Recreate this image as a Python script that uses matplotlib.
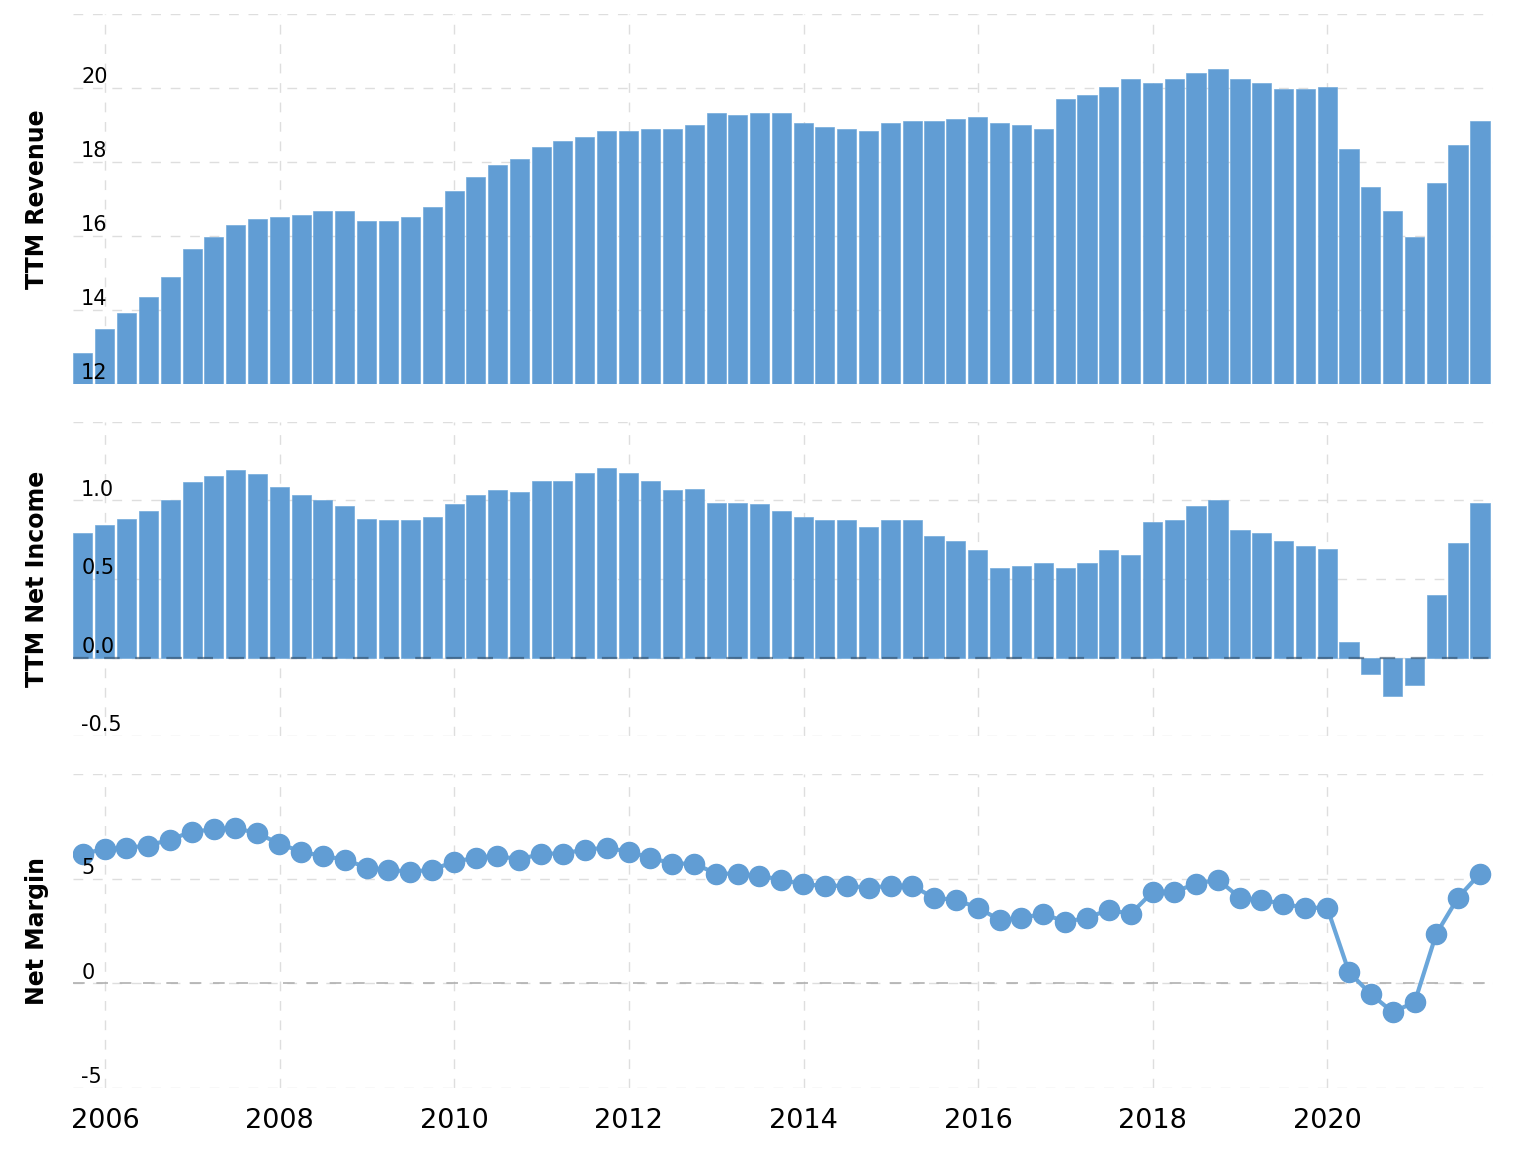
import matplotlib
matplotlib.use("Agg")
import matplotlib.pyplot as plt
import matplotlib.dates as mdates
import pandas as pd


# quarterly TTM figures, Q3 2005 .. Q3 2021 (billions / percent)
quarters = pd.date_range("2005-09-30", "2021-09-30", freq="QE")

revenue = [12.84, 13.49, 13.92, 14.35, 14.89, 15.65, 15.97, 16.30, 16.46, 16.51,
           16.57, 16.68, 16.68, 16.41, 16.41, 16.51, 16.78, 17.22, 17.59, 17.92,
           18.08, 18.41, 18.57, 18.68, 18.84, 18.84, 18.89, 18.89, 19.00, 19.32,
           19.27, 19.32, 19.32, 19.05, 18.95, 18.89, 18.84, 19.05, 19.11, 19.11,
           19.16, 19.22, 19.05, 19.00, 18.89, 19.70, 19.81, 20.03, 20.24, 20.14,
           20.24, 20.41, 20.51, 20.24, 20.14, 19.97, 19.97, 20.03, 18.35, 17.32,
           16.68, 15.97, 17.43, 18.46, 19.11]

net_income = [0.796, 0.847, 0.885, 0.936, 1.000, 1.115, 1.153, 1.191, 1.166, 1.089,
              1.038, 1.000, 0.962, 0.885, 0.873, 0.873, 0.898, 0.975, 1.038, 1.064,
              1.051, 1.127, 1.127, 1.178, 1.204, 1.178, 1.127, 1.064, 1.076, 0.987,
              0.987, 0.975, 0.936, 0.898, 0.873, 0.873, 0.834, 0.873, 0.873, 0.771,
              0.745, 0.682, 0.567, 0.580, 0.605, 0.567, 0.605, 0.682, 0.656, 0.860,
              0.873, 0.962, 1.000, 0.809, 0.796, 0.745, 0.707, 0.694, 0.096, -0.108,
              -0.248, -0.172, 0.401, 0.732, 0.987]

net_margin = [6.20, 6.41, 6.48, 6.58, 6.87, 7.25, 7.35, 7.43, 7.16, 6.68,
              6.28, 6.09, 5.91, 5.53, 5.43, 5.33, 5.43, 5.81, 6.00, 6.10,
              5.91, 6.20, 6.20, 6.39, 6.48, 6.29, 6.00, 5.72, 5.72, 5.24,
              5.24, 5.14, 4.95, 4.73, 4.66, 4.66, 4.57, 4.66, 4.66, 4.09,
              3.99, 3.61, 3.03, 3.13, 3.32, 2.94, 3.13, 3.51, 3.32, 4.37,
              4.37, 4.76, 4.95, 4.09, 3.99, 3.80, 3.61, 3.61, 0.54, -0.51,
              -1.37, -0.90, 2.36, 4.09, 5.24]

rev_ticks = [12, 14, 16, 18, 20]
inc_ticks = [-0.5, 0.0, 0.5, 1.0]
mar_ticks = [-5, 0, 5]

blue = "#619dd4"
grid_kw = dict(color="#dedede", linestyle=(0, (7, 7)), linewidth=1.0)

fig = plt.figure(figsize=(15.16, 11.58), dpi=100)
left, width = 0.0482, 0.9367
ax1 = fig.add_axes([left, 0.6684, width, 0.3195])
ax2 = fig.add_axes([left, 0.3644, width, 0.2712], sharex=ax1)
ax3 = fig.add_axes([left, 0.0604, width, 0.2712], sharex=ax1)

bar_w = 80  # days

ax1.bar(quarters, revenue, width=bar_w, color=blue, edgecolor="#74abdb",
        linewidth=0.5, zorder=2)
ax1.set_ylim(12, 22)
ax1.set_yticks([12, 14, 16, 18, 20, 22])
ax1.set_ylabel("TTM Revenue")

ax2.bar(quarters, net_income, width=bar_w, color=blue, edgecolor="#74abdb",
        linewidth=0.5, zorder=2)
ax2.axhline(0, color="#2c4a66", alpha=0.6, linestyle=(0, (7, 7)), linewidth=1.6, zorder=3)
ax2.set_ylim(-0.5, 1.5)
ax2.set_yticks([-0.5, 0.0, 0.5, 1.0, 1.5])
ax2.set_ylabel("TTM Net Income")

ax3.plot(quarters, net_margin, color="#6aa6da", linewidth=3.0, zorder=2)
ax3.plot(quarters, net_margin, linestyle="none", marker="o", markersize=14.5,
         color=blue, zorder=3)
ax3.axhline(0, color="#b0b0b0", linestyle=(0, (7, 7)), linewidth=1.2, zorder=1)
ax3.set_ylim(-5, 10)
ax3.set_yticks([-5, 0, 5, 10])
ax3.set_ylabel("Net Margin")

for ax, ticks, fmt in [(ax1, rev_ticks, "{:.0f}"), (ax2, inc_ticks, "{:.1f}"),
                       (ax3, mar_ticks, "{:.0f}")]:
    for s in ax.spines.values():
        s.set_visible(False)
    ax.grid(True, zorder=0, **grid_kw)
    ax.set_axisbelow(True)
    ax.tick_params(axis="y", length=0, labelleft=False)
    ax.tick_params(axis="x", length=0, labelbottom=False)
    ax.yaxis.label.set_fontsize(17)
    ax.yaxis.label.set_fontweight("bold")
    ax.yaxis.set_label_coords(-0.0167, 0.5)
    for v in ticks:
        ax.annotate(fmt.format(v), xy=(0, v), xycoords=("axes fraction", "data"),
                    xytext=(5.8, 3.3), textcoords="offset points",
                    ha="left", va="baseline", fontsize=15, zorder=5)

ax3.tick_params(axis="x", labelbottom=True, labelsize=19.5, pad=14)
ax3.xaxis.set_major_locator(mdates.YearLocator(2))
ax3.xaxis.set_major_formatter(mdates.DateFormatter("%Y"))
ax3.set_xlim(pd.Timestamp("2005-08-20"), pd.Timestamp("2021-11-24"))

fig.savefig("out.png", dpi=100)
